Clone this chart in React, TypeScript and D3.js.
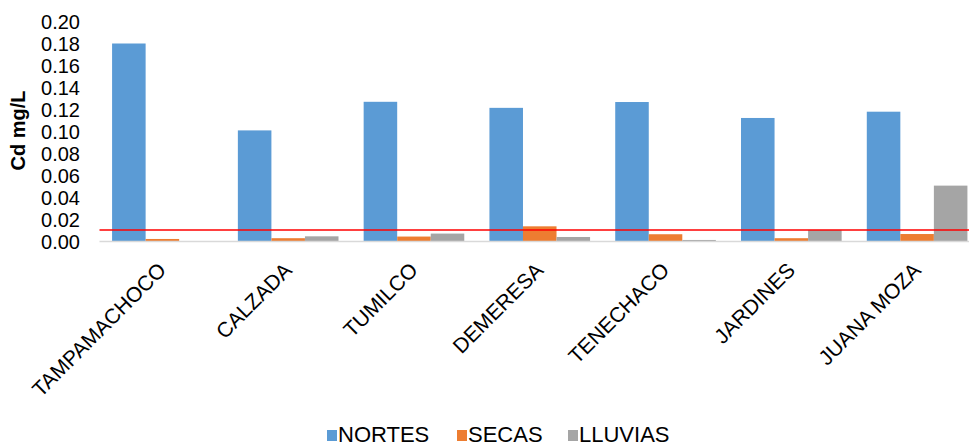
import React from "react";
import * as d3 from "d3";

const sites = ["TAMPAMACHOCO", "CALZADA", "TUMILCO", "DEMERESA", "TENECHACO", "JARDINES", "JUANA MOZA"];
const seasons = ["NORTES", "SECAS", "LLUVIAS"];
const nortes = [0.18, 0.101, 0.127, 0.1215, 0.1268, 0.1123, 0.118];
const secas = [0.0023, 0.003, 0.0045, 0.0138, 0.0066, 0.003, 0.0068];
const lluvias = [0.0, 0.0047, 0.0072, 0.0041, 0.0014, 0.0105, 0.0508];
const yTicks = [0, 0.02, 0.04, 0.06, 0.08, 0.1, 0.12, 0.14, 0.16, 0.18, 0.2];
const limit = 0.0105;

const colors = ["#5b9bd5", "#ed7d31", "#a5a5a5"];
const W = 969;
const H = 447;
const font = "'Liberation Sans', Arial, sans-serif";

export default function App() {
  const series = [nortes, secas, lluvias];
  const left = 99.5;
  const right = 980;
  const top = 21.5;
  const bottom = 241.5;

  const x0 = d3.scaleBand<string>().domain(sites).range([left, right]).paddingInner(0.2).paddingOuter(0.1);
  const x1 = d3.scaleBand<string>().domain(seasons).range([0, x0.bandwidth()]);
  const y = d3.scaleLinear().domain([0, 0.2]).range([bottom, top]);

  const legendX = [327, 457, 568];

  return (
    <svg width={W} height={H} style={{ position: "absolute", left: 0, top: 0 }} fontFamily={font}>
      <rect width={W} height={H} fill="#fff" />
      {sites.map((s, i) => (
        <g key={s} transform={`translate(${x0(s)},0)`}>
          {seasons.map((se, k) => {
            const v = series[k][i];
            return (
              <rect
                key={se}
                x={x1(se)}
                y={y(v)}
                width={x1.bandwidth()}
                height={bottom - y(v)}
                fill={colors[k]}
              />
            );
          })}
        </g>
      ))}
      <line x1={left} x2={right} y1={bottom} y2={bottom} stroke="#d9d9d9" strokeWidth={1.5} />
      <line x1={left} x2={W} y1={y(limit)} y2={y(limit)} stroke="#ff0000" strokeWidth={1.5} />
      {yTicks.map((t) => (
        <text key={t} x={80} y={y(t)} dy="0.36em" textAnchor="end" fontSize={20} fill="#000">
          {t.toFixed(2)}
        </text>
      ))}
      <text
        transform={`translate(25,${(top + bottom) / 2 - 1}) rotate(-90)`}
        textAnchor="middle"
        fontSize={20}
        fontWeight="bold"
        fill="#000"
      >
        Cd mg/L
      </text>
      {sites.map((s) => {
        const cx = (x0(s) as number) + x0.bandwidth() / 2 + 5;
        return (
          <text
            key={s}
            transform={`translate(${cx},${bottom + 30}) rotate(-45)`}
            textAnchor="end"
            fontSize={21}
            fill="#000"
          >
            {s}
          </text>
        );
      })}
      {seasons.map((se, k) => (
        <g key={se} transform={`translate(${legendX[k]},0)`}>
          <rect x={0} y={430} width={10} height={11} fill={colors[k]} />
          <text x={11} y={442} fontSize={22} fill="#000">
            {se}
          </text>
        </g>
      ))}
    </svg>
  );
}
